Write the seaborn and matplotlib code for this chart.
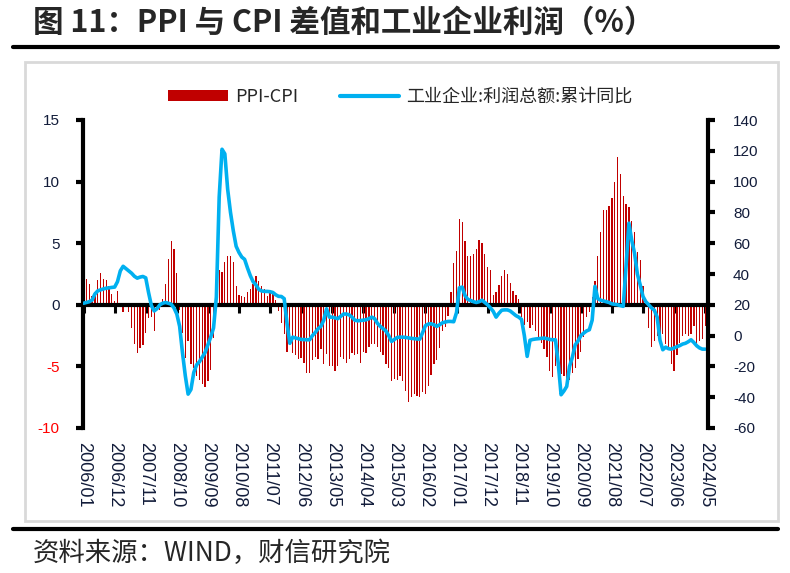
import numpy as np
import pandas as pd
import matplotlib
matplotlib.use('Agg')
import matplotlib.pyplot as plt
import seaborn as sns
from matplotlib.lines import Line2D
from matplotlib.patches import Patch, Rectangle

# ---- data ----
months = pd.date_range('2006-01-01', '2024-05-01', freq='MS').strftime('%Y/%m')

# PPI-CPI spread, monthly, 2006/01 - 2024/05
ppi_cpi = [
    1.2, 2.1, 1.7, 0.7, 1.0, 2.0, 2.6, 2.1, 2.0, 1.5, 0.9, 0.3,          # 2006
    1.1, -0.1, -0.6, -0.2, -0.6, -1.9, -3.2, -3.9, -3.5, -3.3, -2.3, -1.1,  # 2007
    -1.0, -2.1, -0.3, -0.4, 0.5, 1.7, 3.7, 5.2, 4.5, 2.6, -0.4, -2.3,    # 2008
    -4.3, -2.9, -4.8, -5.1, -5.8, -6.1, -6.4, -6.7, -6.2, -5.3, -2.7, -0.2,  # 2009
    2.8, 2.7, 3.5, 4.0, 4.0, 3.5, 1.5, 0.8, 0.7, 0.6, 1.0, 1.3,          # 2010
    1.7, 2.3, 1.9, 1.5, 1.3, 0.7, 1.0, 1.1, 0.4, -0.5, -1.5, -2.4,       # 2011
    -3.8, -3.2, -3.9, -4.1, -4.4, -4.3, -4.7, -5.5, -5.5, -4.5, -4.2, -4.4,  # 2012
    -3.6, -4.8, -4.0, -5.0, -5.0, -5.4, -5.0, -4.2, -4.4, -4.7, -4.4, -3.9,  # 2013
    -4.1, -4.0, -4.7, -3.8, -3.9, -3.4, -3.2, -3.2, -3.4, -3.8, -4.1, -4.8,  # 2014
    -5.1, -6.2, -6.0, -6.1, -5.8, -6.2, -7.0, -7.9, -7.5, -7.2, -7.4, -7.5,  # 2015
    -7.1, -7.2, -6.6, -5.7, -4.8, -4.5, -3.5, -2.1, -1.8, -0.9, 1.0, 3.4,    # 2016
    4.4, 7.0, 6.7, 5.2, 4.0, 4.0, 4.1, 4.5, 5.3, 5.0, 4.1, 3.1,          # 2017
    2.8, 0.8, 1.0, 1.6, 2.3, 2.8, 2.5, 1.8, 1.1, 0.8, 0.5, -1.0,         # 2018
    -1.6, -1.4, -1.9, -1.6, -2.1, -2.7, -3.1, -3.6, -4.2, -5.4, -5.9, -5.0,  # 2019
    -5.3, -5.6, -5.8, -6.4, -6.1, -5.5, -5.1, -4.4, -3.8, -2.6, -1.0, -0.6,  # 2020
    0.6, 1.9, 4.0, 5.9, 7.7, 7.7, 8.0, 8.7, 10.0, 12.0, 10.6, 8.8,       # 2021
    8.2, 7.9, 6.8, 5.9, 4.3, 3.6, 1.5, -0.2, -1.9, -3.4, -2.9, -2.5,     # 2022
    -2.9, -2.4, -3.2, -3.7, -4.8, -5.4, -4.1, -3.1, -2.5, -2.4, -2.5, -2.4,  # 2023
    -1.7, -3.4, -2.9, -2.8, -1.7,                                        # 2024
]

# industrial enterprise profit, cumulative yoy (right axis)
profit = [
    21, 21.5, 22, 23, 27, 29, 29.7, 30.3, 30.8, 31, 31.3, 31.5,
    35, 42, 45, 43.5, 42, 40.5, 38.5, 37.3, 38, 38.4, 37.5, 28,
    19.5, 16, 17.5, 20, 21, 21.5, 21, 20.4, 18, 14, 6, -11,
    -26, -38, -35, -24, -19, -17, -14, -11, -6, -1, 5, 25,
    90, 121, 118, 95, 80, 68, 58, 54, 51, 49.5, 44, 39,
    35, 33, 30, 29, 28.7, 28.7, 28.5, 28, 26.5, 25.5, 25.4, 24,
    8, -5, -1, -1.5, -2, -2.5, -2.6, -2.7, -2.7, 0, 2, 4.5,
    6, 10, 17.4, 12, 12, 11.5, 11, 12.5, 14, 14, 13.5, 12,
    10, 9.6, 9.8, 10, 10.3, 11, 12, 11, 8, 6, 4.5, 3,
    0, -3.8, -2.5, -1.2, -1, -1, -1.2, -1.5, -1.8, -2, -2.2, -2.3,
    2, 6.5, 7.5, 7.7, 7, 6, 7, 8.3, 8.8, 9.2, 9.2, 9,
    15, 31, 31.5, 26, 23.5, 22.8, 22, 21.5, 22, 23, 21.5, 20,
    18, 15.7, 12, 14.5, 16.5, 16.7, 16.7, 16, 14.5, 13, 12, 10.5,
    0, -13.5, -3, -2.5, -2.2, -2, -1.8, -1.6, -2, -2.5, -2.7, -2.7,
    -18, -38.4, -36, -33, -20, -14, -6, -3.5, 0, 1.6, 3, 3.8,
    10, 32, 24, 23, 22.5, 22, 21.5, 20.6, 20.3, 20, 19.5, 19,
    45, 73, 62, 53.5, 40, 33, 25.4, 22, 20, 18, 16.5, 12,
    -3, -9.2, -7.5, -8.5, -8.8, -8, -7.2, -6.5, -5.5, -5, -4, -2.7,
    -4.5, -6.6, -8, -8.8, -8.8,
]

tick_labels = ['2006/01', '2006/12', '2007/11', '2008/10', '2009/09', '2010/08',
               '2011/07', '2012/06', '2013/05', '2014/04', '2015/03', '2016/02',
               '2017/01', '2017/12', '2018/11', '2019/10', '2020/09', '2021/08',
               '2022/07', '2023/06', '2024/05']

df = pd.DataFrame({'month': months, 'ppi_cpi': ppi_cpi, 'profit': profit})
df['idx'] = np.arange(len(df))

# ---- style ----
sns.set_style('white')
plt.rcParams['font.family'] = ['Noto Sans CJK SC', 'DejaVu Sans']
plt.rcParams['axes.unicode_minus'] = False

bar_red = '#C00000'
line_blue = '#00B0F0'
navy = '#121c3a'

fig = plt.figure(figsize=(7.9, 5.73), dpi=100)
ax = fig.add_axes([83 / 790, 1 - 428 / 573, (708 - 83) / 790, (428 - 120) / 573])

#bars for PPI-CPI
sns.barplot(data=df, x='idx', y='ppi_cpi', color=bar_red, width=0.45,
            linewidth=0, saturation=1, errorbar=None, ax=ax, native_scale=True)

#profit line on the right axis
ax2 = ax.twinx()
sns.lineplot(data=df, x='idx', y='profit', color=line_blue, lw=2.6, ax=ax2)

ax.set_xlim(-0.2, 221)
ax.set_ylim(-10, 15)
ax2.set_ylim(-60, 140)
ax.set_xlabel('')
ax.set_ylabel('')
ax2.set_xlabel('')
ax2.set_ylabel('')

#spines: thick left/right axes, x axis line sits at zero
for s in ['top', 'right']:
    ax.spines[s].set_visible(False)
for s in ['top', 'left', 'bottom']:
    ax2.spines[s].set_visible(False)
ax.spines['left'].set_linewidth(3)
ax.spines['left'].set_color('black')
ax.spines['bottom'].set_position(('data', 0))
ax.spines['bottom'].set_linewidth(3)
ax.spines['bottom'].set_color('black')
ax2.spines['right'].set_linewidth(3)
ax2.spines['right'].set_color('black')

# x ticks on the zero line, labels below the plot
ax.set_xticks(range(0, 221, 11))
ax.tick_params(axis='x', direction='out', length=5.5, width=2.2, color='black',
               labelbottom=False, bottom=True)
sec = ax.secondary_xaxis('bottom')
sec.set_xticks(range(0, 221, 11), labels=tick_labels)
sec.tick_params(length=0, pad=10)
sec.spines['bottom'].set_visible(False)
for lab in sec.get_xticklabels():
    lab.set_rotation(270)
    lab.set_family('Liberation Sans')
    lab.set_fontsize(13)
    lab.set_color(navy)

# left axis ticks
ax.set_yticks([-10, -5, 0, 5, 10, 15])
ax.set_yticklabels(['-10', '-5', '0', '5', '10', '15'])
ax.tick_params(axis='y', direction='out', length=5, width=3, color='black', pad=12, left=True)
for lab, v in zip(ax.get_yticklabels(), [-10, -5, 0, 5, 10, 15]):
    lab.set_family('Liberation Sans')
    lab.set_fontsize(11)
    lab.set_color('#FF0000' if v < 0 else navy)

# right axis ticks
ax2.set_yticks(range(-60, 141, 20))
ax2.set_yticklabels([str(v) for v in range(-60, 141, 20)])
ax2.tick_params(axis='y', direction='out', length=5, width=3, color='black', pad=13, right=True)
for lab in ax2.get_yticklabels():
    lab.set_family('Liberation Sans')
    lab.set_fontsize(11)
    lab.set_color(navy)

#legend
handles = [Patch(facecolor=bar_red, edgecolor='none'),
           Line2D([], [], color=line_blue, lw=3)]
fig.legend(handles, ['PPI-CPI', '工业企业:利润总额:累计同比'], loc='center',
           bbox_to_anchor=(0.507, 1 - 97 / 573), ncol=2, frameon=False, fontsize=13,
           handlelength=3.3, handleheight=0.5, handletextpad=0.4, columnspacing=2.3)

#frame, rules, title and source
fig.add_artist(Rectangle((25 / 790, 1 - 521 / 573), (778 - 25) / 790, (521 - 62) / 573,
                         transform=fig.transFigure, fill=False, edgecolor='#D9D9D9', lw=2))
fig.add_artist(Line2D([13 / 790, 778 / 790], [1 - 47 / 573] * 2, color='black', lw=3))
fig.add_artist(Line2D([13 / 790, 778 / 790], [1 - 529 / 573] * 2, color='black', lw=3))

fig.text(33 / 790, 1 - 23 / 573, '图 11：PPI 与 CPI 差值和工业企业利润（%）',
         fontsize=22, fontweight='bold', ha='left', va='center')
fig.text(33 / 790, 1 - 553 / 573, '资料来源：WIND，财信研究院',
         fontsize=19, style='italic', ha='left', va='center')

plt.savefig('out.png', dpi=100)
